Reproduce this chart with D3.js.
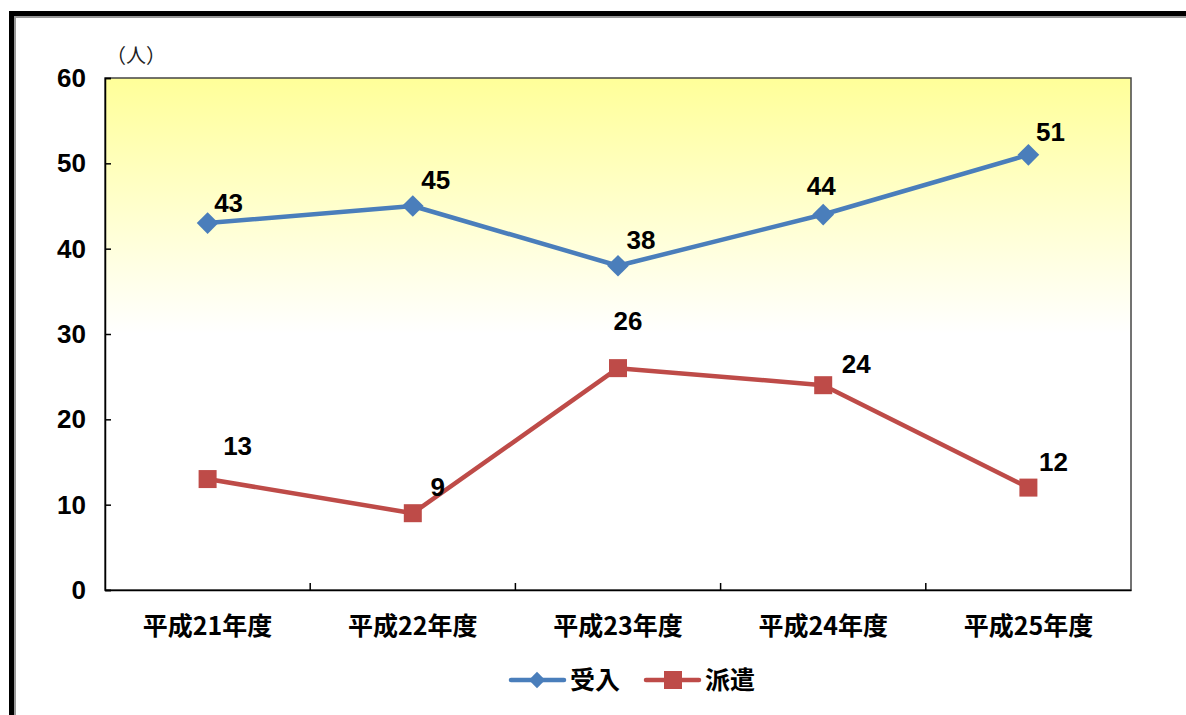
<!DOCTYPE html>
<html><head><meta charset="utf-8">
<script src="https://cdn.jsdelivr.net/npm/d3@7"></script>
<style>body{margin:0;background:#fff}svg{display:block}</style>
</head><body>
<svg id="c" width="1186" height="715"></svg>
<script>
const categories = ["平成21年度","平成22年度","平成23年度","平成24年度","平成25年度"];
const ukeire = [43,45,38,44,51];
const haken = [13,9,26,24,12];
const yTicks = [0,10,20,30,40,50,60];
const seriesNames = ["受入","派遣"];

const svg = d3.select("#c");
const m = {l:105, t:78, r:1131, b:590};
const x = d3.scaleBand().domain(categories).range([m.l,m.r]).padding(0);
const y = d3.scaleLinear().domain([0,60]).range([m.b,m.t]);
const numFont = "'Liberation Sans Narrow', 'Liberation Sans', Arial, sans-serif";
const jpFont = "'Noto Sans CJK JP', sans-serif";

// outer frame
svg.append("rect").attr("x",11.5).attr("y",13.5).attr("width",1200).attr("height",800)
  .attr("fill","none").attr("stroke","#000").attr("stroke-width",5);
svg.append("rect").attr("x",15).attr("y",17).attr("width",1200).attr("height",800)
  .attr("fill","none").attr("stroke","#999").attr("stroke-width",2);

const defs = svg.append("defs");
const g = defs.append("linearGradient").attr("id","bg").attr("x1",0).attr("y1",0).attr("x2",0).attr("y2",1);
g.append("stop").attr("offset","0%").attr("stop-color","#ffff99");
g.append("stop").attr("offset","50%").attr("stop-color","#ffffff");
g.append("stop").attr("offset","100%").attr("stop-color","#ffffff");

svg.append("rect").attr("x",m.l).attr("y",m.t).attr("width",m.r-m.l).attr("height",m.b-m.t)
  .attr("fill","url(#bg)").attr("stroke","#444").attr("stroke-width",1.5);

// y axis
const ya = svg.append("g").attr("transform",`translate(${m.l},0)`)
  .call(d3.axisRight(y).tickValues(yTicks).tickSize(6).tickFormat(""));
ya.select(".domain").attr("stroke","#000").attr("stroke-width",1.5);
ya.selectAll("line").attr("stroke","#000").attr("stroke-width",1.5);
svg.selectAll(".ylab").data(yTicks).enter().append("text")
  .attr("x",86).attr("y",d=>y(d)+9).attr("text-anchor","end")
  .attr("font-family",numFont).attr("font-weight","bold").attr("font-size",26).attr("fill","#000").text(d=>d);

// x axis
const xa = svg.append("g").attr("transform",`translate(0,${m.b})`)
  .call(d3.axisBottom(x).tickSize(0).tickFormat(""));
xa.select(".domain").attr("stroke","#000").attr("stroke-width",1.5);
svg.selectAll(".xt").data(categories.slice(1)).enter().append("line")
  .attr("x1",d=>x(d)).attr("x2",d=>x(d)).attr("y1",m.b).attr("y2",m.b-7)
  .attr("stroke","#000").attr("stroke-width",1.5);
svg.selectAll(".xlab").data(categories).enter().append("text")
  .attr("x",d=>x(d)+x.bandwidth()/2).attr("y",635).attr("text-anchor","middle")
  .attr("font-family",jpFont).attr("font-weight","bold").attr("font-size",25).attr("fill","#000").text(d=>d);

svg.append("text").attr("x",106).attr("y",63).attr("font-family",jpFont).attr("font-size",20).attr("fill","#222").text("（人）");

const cx = d=>x(d)+x.bandwidth()/2;
const line = d3.line().x(d=>cx(d[0])).y(d=>y(d[1]));
const blue="#4a7ebb", red="#be4b48";
const dA = categories.map((c,i)=>[c,ukeire[i]]);
const dB = categories.map((c,i)=>[c,haken[i]]);
svg.append("path").attr("d",line(dA)).attr("fill","none").attr("stroke",blue).attr("stroke-width",4.5).attr("stroke-linejoin","round");
svg.append("path").attr("d",line(dB)).attr("fill","none").attr("stroke",red).attr("stroke-width",4.5).attr("stroke-linejoin","round");

const diamond = d3.symbol().type(d3.symbolDiamond2).size(300);
svg.selectAll(".da").data(dA).enter().append("path")
  .attr("d",diamond).attr("transform",d=>`translate(${cx(d[0])},${y(d[1])})`).attr("fill",blue);
svg.selectAll(".db").data(dB).enter().append("rect")
  .attr("x",d=>cx(d[0])-9).attr("y",d=>y(d[1])-9).attr("width",18).attr("height",18).attr("fill",red);

// data labels
const offA = [[21,-11],[23,-17],[23,-17],[-2,-20],[22,-14]];
const offB = [[30,-24],[25,-17],[10,-38],[33,-12],[25,-17]];
svg.selectAll(".la").data(dA).enter().append("text")
  .attr("x",(d,i)=>cx(d[0])+offA[i][0]).attr("y",(d,i)=>y(d[1])+offA[i][1])
  .attr("text-anchor","middle").attr("font-family",numFont).attr("font-weight","bold").attr("font-size",26).text(d=>d[1]);
svg.selectAll(".lb").data(dB).enter().append("text")
  .attr("x",(d,i)=>cx(d[0])+offB[i][0]).attr("y",(d,i)=>y(d[1])+offB[i][1])
  .attr("text-anchor","middle").attr("font-family",numFont).attr("font-weight","bold").attr("font-size",26).text(d=>d[1]);

// legend
const lg = svg.append("g");
lg.append("line").attr("x1",511).attr("x2",564).attr("y1",680).attr("y2",680).attr("stroke",blue).attr("stroke-width",4.5).attr("stroke-linecap","round");
lg.append("path").attr("d",d3.symbol().type(d3.symbolDiamond2).size(170)).attr("transform","translate(537,680)").attr("fill",blue);
lg.append("text").attr("x",570).attr("y",689).attr("font-family",jpFont).attr("font-size",25).attr("font-weight","bold").text(seriesNames[0]);
lg.append("line").attr("x1",646).attr("x2",699).attr("y1",680).attr("y2",680).attr("stroke",red).attr("stroke-width",4.5).attr("stroke-linecap","round");
lg.append("rect").attr("x",664).attr("y",671).attr("width",18).attr("height",18).attr("fill",red);
lg.append("text").attr("x",705).attr("y",689).attr("font-family",jpFont).attr("font-size",25).attr("font-weight","bold").text(seriesNames[1]);
</script>
</body></html>
